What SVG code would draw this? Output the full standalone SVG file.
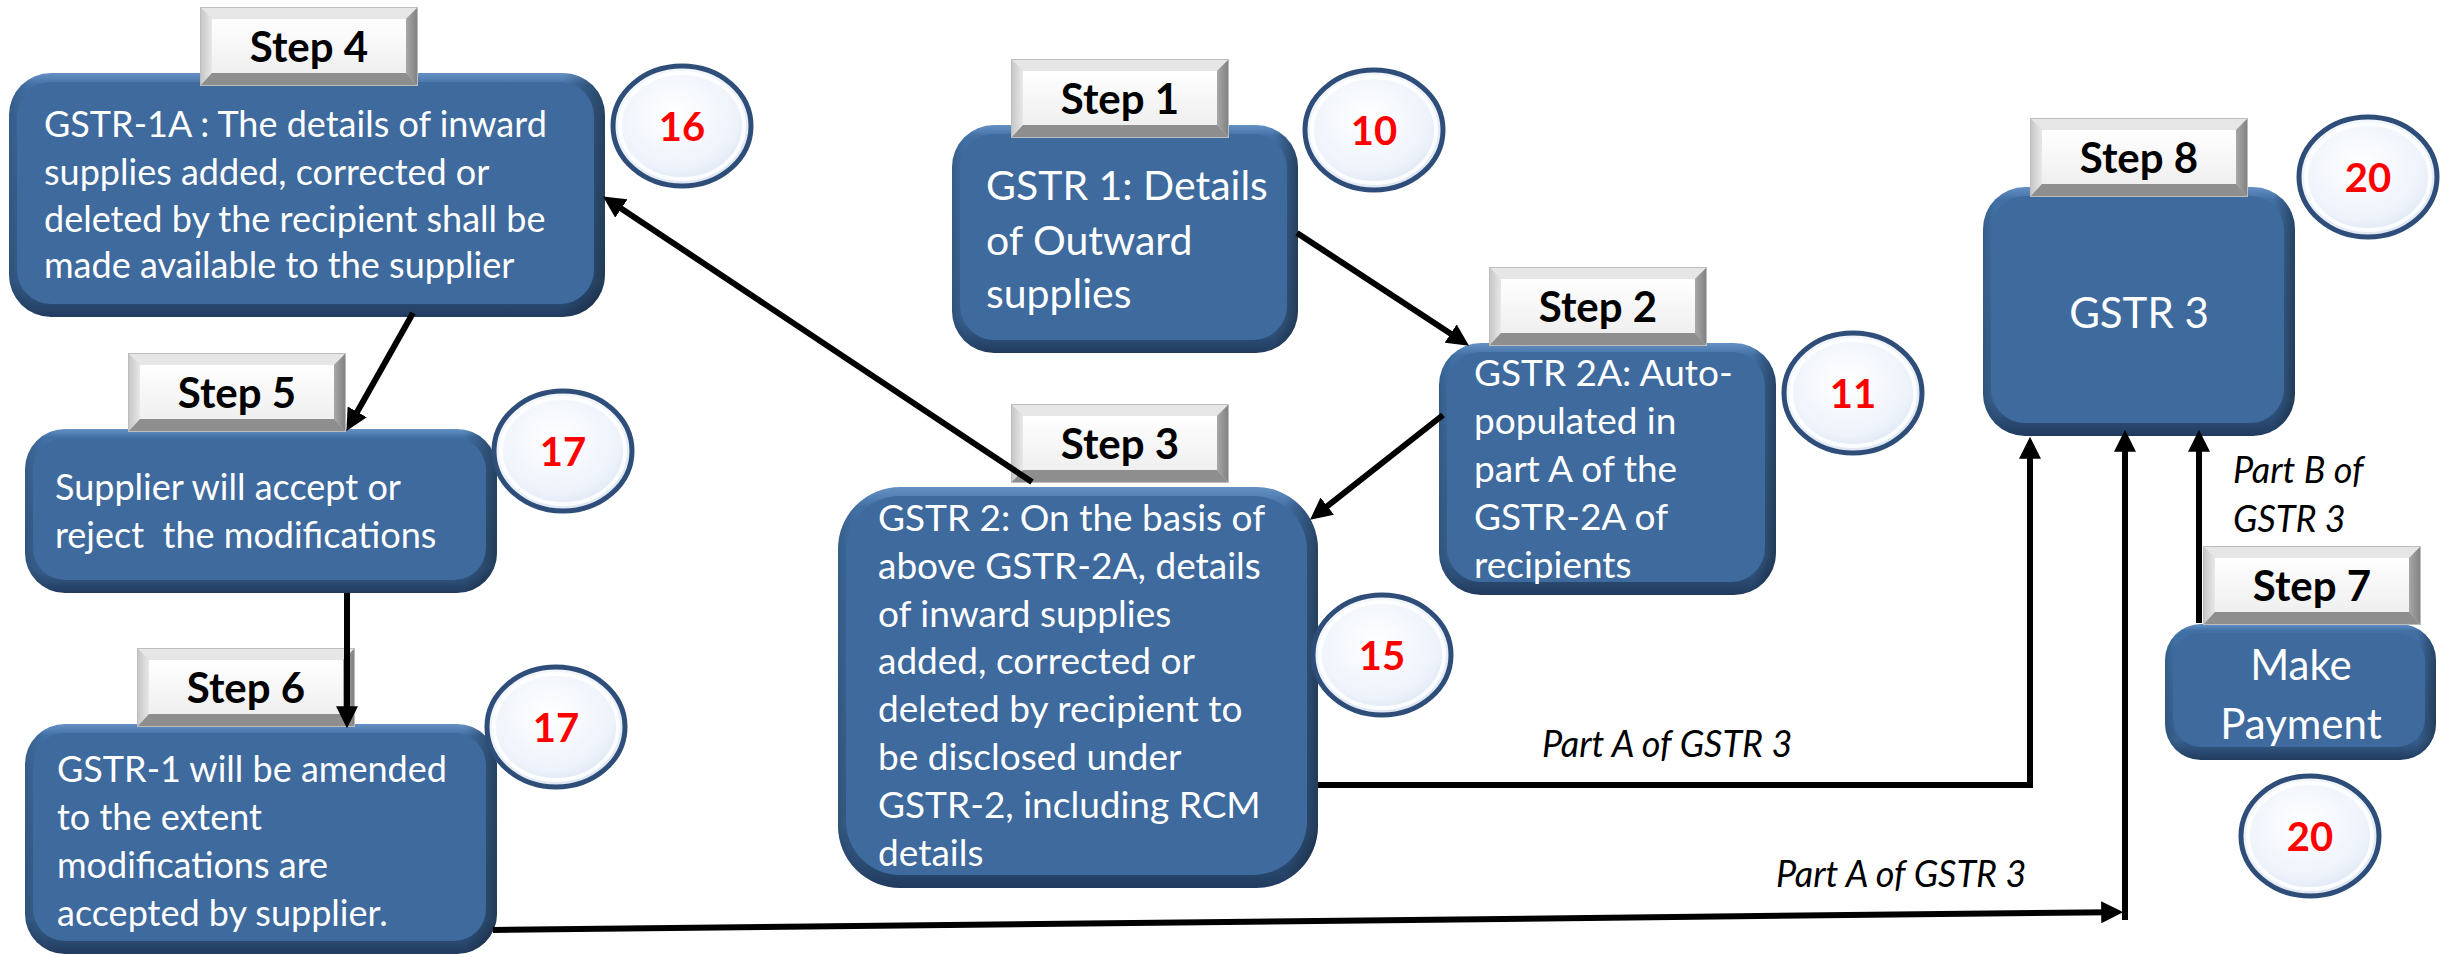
<svg xmlns="http://www.w3.org/2000/svg" xmlns:xlink="http://www.w3.org/1999/xlink" width="2441" height="957" viewBox="0 0 2441 957">
<style>
.bo{fill:url(#gV)}
.bs{fill:url(#gH)}
.bi{fill:#3E6A9E}
.t{font-family:Lato,"Liberation Sans",sans-serif;fill:#ffffff;font-size:36px}
.t1{font-size:41px}
.t3{font-size:37px}
.big{font-size:42px;text-anchor:middle}
.lb{font-family:Lato,"Liberation Sans",sans-serif;font-weight:700;font-size:42px;fill:#000000;text-anchor:middle}
.num{font-family:Lato,"Liberation Sans",sans-serif;font-weight:700;font-size:40px;fill:#FF0000;text-anchor:middle}
.it{font-family:Lato,"Liberation Sans",sans-serif;font-style:italic;font-size:36px;fill:#000000}
.ce{fill:url(#gC);stroke:#2E4D78;stroke-width:5}
.ci{fill:none;stroke:#ffffff;stroke-width:4;opacity:0.85}
.cn{fill:none;stroke:#000000;stroke-width:6;stroke-linejoin:miter}
.ar{marker-end:url(#arr)}
</style>
<defs>
<linearGradient id="gV" x1="0" y1="0" x2="0" y2="1">
<stop offset="0" stop-color="#6690C4"/>
<stop offset="0.05" stop-color="#4170A5"/>
<stop offset="0.85" stop-color="#38618F"/>
<stop offset="1" stop-color="#213B5E"/>
</linearGradient>
<linearGradient id="gH" x1="0" y1="0" x2="1" y2="0">
<stop offset="0" stop-color="#000000" stop-opacity="0.15"/>
<stop offset="0.04" stop-color="#000000" stop-opacity="0"/>
<stop offset="0.93" stop-color="#000000" stop-opacity="0"/>
<stop offset="1" stop-color="#000000" stop-opacity="0.4"/>
</linearGradient>
<radialGradient id="gC" cx="0.45" cy="0.4" r="0.6">
<stop offset="0" stop-color="#ffffff"/>
<stop offset="0.75" stop-color="#EEF3FB"/>
<stop offset="1" stop-color="#DCE5F2"/>
</radialGradient>
<linearGradient id="gF" x1="0" y1="0" x2="0" y2="1">
<stop offset="0" stop-color="#ffffff"/>
<stop offset="1" stop-color="#EFEFEF"/>
</linearGradient>
<linearGradient id="gL" x1="0" y1="0" x2="1" y2="0">
<stop offset="0" stop-color="#C4C4C4"/>
<stop offset="1" stop-color="#E8E8E8"/>
</linearGradient>
<linearGradient id="gR" x1="0" y1="0" x2="1" y2="0">
<stop offset="0" stop-color="#A8A8A8"/>
<stop offset="1" stop-color="#7E7E7E"/>
</linearGradient>
<g id="lbl">
<rect x="0" y="0" width="218" height="79" fill="#D0D0D0"/>
<polygon points="0,0 218,0 206,12 12,12" fill="#E6E6E6"/>
<polygon points="0,0 12,12 12,66 0,79" fill="url(#gL)"/>
<polygon points="218,0 218,79 206,66 206,12" fill="url(#gR)"/>
<polygon points="0,79 218,79 206,66 12,66" fill="#8E8E8E"/>
<rect x="12" y="12" width="194" height="54" fill="url(#gF)"/>
<rect x="0.5" y="0.5" width="217" height="78" fill="none" stroke="#BDBDBD" stroke-width="1"/>
</g>
<marker id="arr" viewBox="0 0 20 20" refX="8" refY="10" markerWidth="22" markerHeight="22" markerUnits="userSpaceOnUse" orient="auto">
<path d="M0,0 L20,10 L0,20 z" fill="#000000"/>
</marker>
</defs>
<rect x="0" y="0" width="2441" height="957" fill="#ffffff"/>

<g id="step4">
<rect class="bo" x="9" y="73" width="596" height="244" rx="42"/>
<rect class="bs" x="9" y="73" width="596" height="244" rx="42"/>
<rect class="bi" x="17" y="82" width="577" height="222" rx="34"/>
<use xlink:href="#lbl" x="200" y="7"/>
<text class="lb" x="309" y="62">Step 4</text>
<text class="t"><tspan x="44" y="137">GSTR-1A : The details of inward</tspan><tspan x="44" y="185">supplies added, corrected or</tspan><tspan x="44" y="232">deleted by the recipient shall be</tspan><tspan x="44" y="278">made available to the supplier</tspan></text>
</g>

<g id="step5">
<rect class="bo" x="25" y="429" width="472" height="164" rx="40"/>
<rect class="bs" x="25" y="429" width="472" height="164" rx="40"/>
<rect class="bi" x="33" y="438" width="453" height="142" rx="32"/>
<use xlink:href="#lbl" x="128" y="353"/>
<text class="lb" x="237" y="408">Step 5</text>
<text class="t"><tspan x="55" y="500">Supplier will accept or</tspan><tspan x="55" y="548" xml:space="preserve">reject  the modifications</tspan></text>
</g>

<g id="step6">
<rect class="bo" x="25" y="724" width="472" height="230" rx="40"/>
<rect class="bs" x="25" y="724" width="472" height="230" rx="40"/>
<rect class="bi" x="33" y="733" width="453" height="208" rx="32"/>
<use xlink:href="#lbl" x="137" y="648"/>
<text class="lb" x="246" y="703">Step 6</text>
<text class="t"><tspan x="57" y="782">GSTR-1 will be amended</tspan><tspan x="57" y="830">to the extent</tspan><tspan x="57" y="878">modifications are</tspan><tspan x="57" y="926">accepted by supplier.</tspan></text>
</g>

<g id="step1">
<rect class="bo" x="952" y="125" width="346" height="228" rx="42"/>
<rect class="bs" x="952" y="125" width="346" height="228" rx="42"/>
<rect class="bi" x="960" y="134" width="327" height="206" rx="34"/>
<use xlink:href="#lbl" x="1011" y="59"/>
<text class="lb" x="1120" y="114">Step 1</text>
<text class="t t1"><tspan x="986" y="200">GSTR 1: Details</tspan><tspan x="986" y="255">of Outward</tspan><tspan x="986" y="308">supplies</tspan></text>
</g>

<g id="step2">
<rect class="bo" x="1439" y="343" width="337" height="252" rx="42"/>
<rect class="bs" x="1439" y="343" width="337" height="252" rx="42"/>
<rect class="bi" x="1447" y="352" width="318" height="230" rx="34"/>
<use xlink:href="#lbl" x="1489" y="267"/>
<text class="lb" x="1598" y="322">Step 2</text>
<text class="t t3"><tspan x="1474" y="386">GSTR 2A: Auto-</tspan><tspan x="1474" y="434">populated in</tspan><tspan x="1474" y="482">part A of the</tspan><tspan x="1474" y="530">GSTR-2A of</tspan><tspan x="1474" y="578">recipients</tspan></text>
</g>

<g id="step3">
<rect class="bo" x="838" y="487" width="480" height="401" rx="62"/>
<rect class="bs" x="838" y="487" width="480" height="401" rx="62"/>
<rect class="bi" x="846" y="496" width="461" height="379" rx="54"/>
<use xlink:href="#lbl" x="1011" y="404"/>
<text class="lb" x="1120" y="459">Step 3</text>
<text class="t t3"><tspan x="878" y="531">GSTR 2: On the basis of</tspan><tspan x="878" y="579">above GSTR-2A, details</tspan><tspan x="878" y="627">of inward supplies</tspan><tspan x="878" y="674">added, corrected or</tspan><tspan x="878" y="722">deleted by recipient to</tspan><tspan x="878" y="770">be disclosed under</tspan><tspan x="878" y="818">GSTR-2, including RCM</tspan><tspan x="878" y="866">details</tspan></text>
</g>

<g id="step8">
<rect class="bo" x="1983" y="187" width="312" height="249" rx="42"/>
<rect class="bs" x="1983" y="187" width="312" height="249" rx="42"/>
<rect class="bi" x="1991" y="196" width="293" height="227" rx="34"/>
<use xlink:href="#lbl" x="2030" y="118"/>
<text class="lb" x="2139" y="173">Step 8</text>
<text class="t big" x="2139" y="328">GSTR 3</text>
</g>

<g id="step7">
<rect class="bo" x="2165" y="624" width="271" height="136" rx="36"/>
<rect class="bs" x="2165" y="624" width="271" height="136" rx="36"/>
<rect class="bi" x="2173" y="633" width="252" height="114" rx="28"/>
<use xlink:href="#lbl" x="2203" y="546"/>
<text class="lb" x="2312" y="601">Step 7</text>
<text class="t big"><tspan x="2301" y="680">Make</tspan><tspan x="2301" y="739">Payment</tspan></text>
</g>

<g id="badges">
<g id="b16"><ellipse class="ce" cx="682" cy="126" rx="69" ry="60"/><ellipse class="ci" cx="682" cy="126" rx="62" ry="53"/><text class="num" x="682" y="141">16</text></g>
<g id="b10"><ellipse class="ce" cx="1374" cy="130" rx="69" ry="60"/><ellipse class="ci" cx="1374" cy="130" rx="62" ry="53"/><text class="num" x="1374" y="145">10</text></g>
<g id="b11"><ellipse class="ce" cx="1853" cy="393" rx="69" ry="60"/><ellipse class="ci" cx="1853" cy="393" rx="62" ry="53"/><text class="num" x="1853" y="408">11</text></g>
<g id="b15"><ellipse class="ce" cx="1382" cy="655" rx="69" ry="60"/><ellipse class="ci" cx="1382" cy="655" rx="62" ry="53"/><text class="num" x="1382" y="670">15</text></g>
<g id="b17a"><ellipse class="ce" cx="563" cy="451" rx="69" ry="60"/><ellipse class="ci" cx="563" cy="451" rx="62" ry="53"/><text class="num" x="563" y="466">17</text></g>
<g id="b17b"><ellipse class="ce" cx="556" cy="727" rx="69" ry="60"/><ellipse class="ci" cx="556" cy="727" rx="62" ry="53"/><text class="num" x="556" y="742">17</text></g>
<g id="b20a"><ellipse class="ce" cx="2368" cy="177" rx="69" ry="60"/><ellipse class="ci" cx="2368" cy="177" rx="62" ry="53"/><text class="num" x="2368" y="192">20</text></g>
<g id="b20b"><ellipse class="ce" cx="2310" cy="836" rx="69" ry="60"/><ellipse class="ci" cx="2310" cy="836" rx="62" ry="53"/><text class="num" x="2310" y="851">20</text></g>
</g>

<g id="connectors">
<path class="cn ar" d="M1297,233 L1458,338.4"/>
<path class="cn ar" d="M1443,415 L1320.4,511.6"/>
<path class="cn ar" d="M1032,482 L614,203.7"/>
<path class="cn ar" d="M413,313 L352.9,419.5"/>
<path class="cn ar" d="M347,593 L347,715"/>
<path class="cn ar" d="M1318,785 L2030,785 L2030,450"/>
<path class="cn ar" d="M493,930 L2110,912.2"/>
<path class="cn ar" d="M2125,920 L2125,443"/>
<path class="cn ar" d="M2199,623 L2199,443"/>
<text class="it" x="1542" y="757">Part A of GSTR 3</text>
<text class="it" x="1776" y="887">Part A of GSTR 3</text>
<text class="it"><tspan x="2233" y="483">Part B of</tspan><tspan x="2233" y="532">GSTR 3</tspan></text>
</g>
</svg>
